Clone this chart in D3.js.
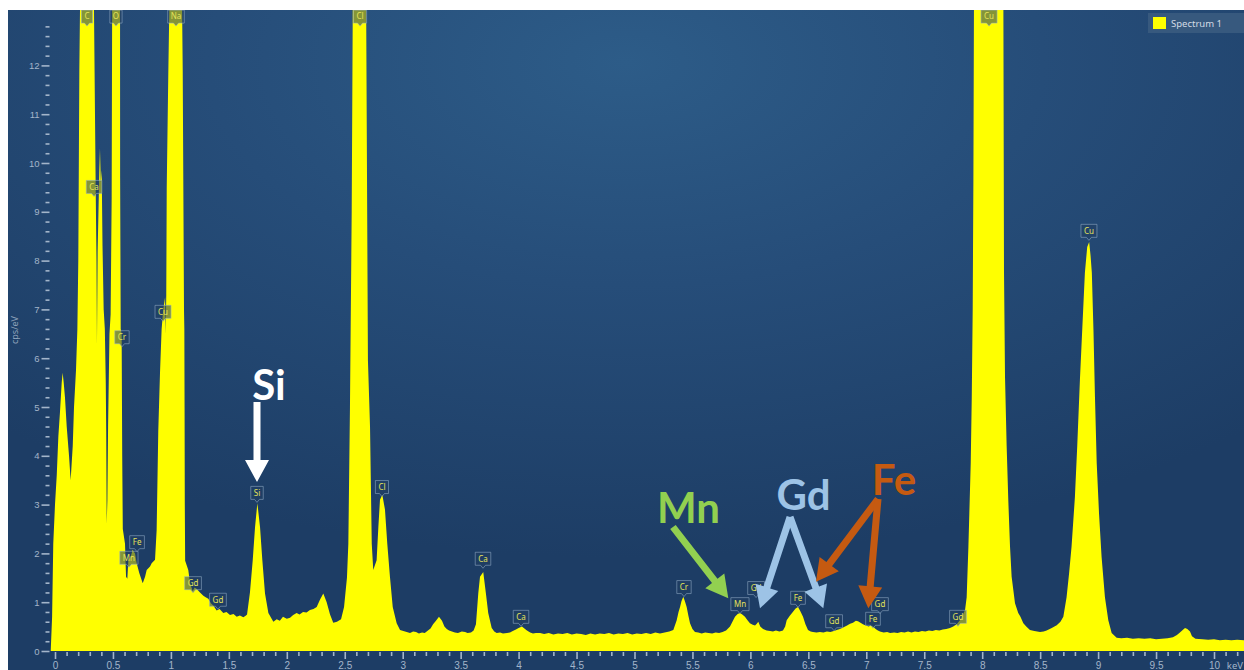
<!DOCTYPE html>
<html>
<head>
<meta charset="utf-8">
<script src="https://cdn.jsdelivr.net/npm/d3@7"></script>
<style>
  body { margin: 0; background: #fff; }
  svg { display: block; font-family: "Noto Sans", "Open Sans", sans-serif; }
</style>
</head>
<body>
<figure id="spectrum" style="margin:0"></figure>
<script>
// EDS spectrum, [energy keV, counts cps/eV]
const spectrum = [
  [-0.037,0],[-0.025,0.7],[-0.015,2.2],[0,3.0],[0.015,3.6],[0.029,4.4],[0.043,4.9],[0.058,5.5],[0.066,5.7],[0.075,5.5],
  [0.086,5.2],[0.101,4.6],[0.121,4.0],[0.135,3.5],[0.153,4.2],[0.164,5.0],[0.181,5.75],[0.193,6.6],[0.201,8.0],[0.21,11.9],
  [0.222,14.5],[0.277,40],[0.331,14.5],[0.351,9.5],[0.358,8.0],[0.362,6.3],[0.368,8.2],[0.382,9.8],[0.388,10.3],[0.395,9.6],
  [0.403,9.85],[0.41,8.3],[0.42,7.0],[0.43,6.6],[0.438,5.5],[0.442,4.5],[0.446,2.6],[0.452,3.1],[0.458,4.6],[0.47,6.5],
  [0.48,6.9],[0.489,9.3],[0.494,14],[0.525,35],[0.561,14],[0.562,9.7],[0.567,6.6],[0.575,6.5],[0.58,4.0],[0.585,2.5],
  [0.604,2.2],[0.613,1.52],[0.624,1.48],[0.633,1.86],[0.653,1.93],[0.67,2.07],[0.69,2.0],[0.705,1.8],[0.727,1.6],[0.757,1.39],
  [0.777,1.52],[0.791,1.66],[0.82,1.73],[0.834,1.8],[0.863,1.87],[0.877,2.48],[0.891,4.5],[0.906,5.7],[0.92,6.6],[0.934,7.0],
  [0.95,7.25],[0.955,6.5],[0.96,7.3],[0.964,9.5],[0.978,11.9],[0.992,14],[1.041,40],[1.093,14],[1.102,11.9],[1.113,7.0],
  [1.116,6.6],[1.118,5.0],[1.12,3.0],[1.123,1.85],[1.15,1.66],[1.165,1.39],[1.188,1.23],[1.205,1.3],[1.223,1.27],[1.251,1.2],
  [1.28,1.13],[1.3,1.1],[1.323,1.07],[1.345,0.98],[1.366,0.93],[1.395,0.83],[1.42,0.86],[1.452,0.78],[1.48,0.8],[1.51,0.74],
  [1.54,0.76],[1.568,0.7],[1.595,0.73],[1.625,0.69],[1.645,0.72],[1.657,0.75],[1.682,1.2],[1.706,1.86],[1.726,2.54],[1.746,3.03],
  [1.769,2.54],[1.789,1.86],[1.812,1.18],[1.841,0.78],[1.884,0.6],[1.913,0.65],[1.94,0.62],[1.967,0.7],[2.0,0.66],[2.028,0.68],
  [2.055,0.74],[2.085,0.78],[2.11,0.75],[2.14,0.8],[2.17,0.79],[2.2,0.84],[2.23,0.86],[2.258,0.9],[2.286,1.05],[2.315,1.18],
  [2.344,1.0],[2.373,0.75],[2.401,0.58],[2.433,0.6],[2.468,0.65],[2.494,0.9],[2.519,1.5],[2.531,2.2],[2.545,5],[2.56,9],
  [2.571,14],[2.622,40],[2.683,14],[2.7,5.96],[2.718,4.6],[2.733,2.2],[2.746,1.66],[2.775,1.86],[2.79,2.54],[2.804,3.1],
  [2.824,3.2],[2.847,2.9],[2.867,2.2],[2.89,1.52],[2.914,0.9],[2.948,0.57],[2.977,0.43],[3.02,0.4],[3.063,0.37],[3.09,0.4],
  [3.115,0.39],[3.14,0.36],[3.167,0.38],[3.19,0.37],[3.218,0.42],[3.24,0.46],[3.262,0.55],[3.287,0.62],[3.313,0.7],[3.339,0.62],
  [3.36,0.5],[3.38,0.45],[3.4,0.42],[3.425,0.4],[3.45,0.38],[3.477,0.37],[3.51,0.4],[3.538,0.39],[3.56,0.37],[3.589,0.38],
  [3.612,0.42],[3.632,0.55],[3.652,1.18],[3.667,1.52],[3.695,1.62],[3.718,1.18],[3.738,0.78],[3.768,0.47],[3.79,0.4],[3.811,0.37],
  [3.84,0.38],[3.865,0.36],[3.9,0.37],[3.926,0.38],[3.95,0.41],[3.977,0.44],[4.0,0.47],[4.029,0.5],[4.05,0.46],[4.072,0.42],
  [4.1,0.38],[4.124,0.36],[4.15,0.37],[4.185,0.37],[4.22,0.35],[4.26,0.37],[4.3,0.34],[4.34,0.36],[4.38,0.35],[4.42,0.37],
  [4.46,0.34],[4.5,0.36],[4.54,0.35],[4.58,0.33],[4.62,0.36],[4.66,0.34],[4.7,0.36],[4.74,0.35],[4.78,0.37],[4.82,0.34],
  [4.86,0.36],[4.9,0.35],[4.94,0.37],[4.98,0.34],[5.02,0.36],[5.06,0.35],[5.1,0.37],[5.14,0.35],[5.18,0.38],[5.22,0.36],
  [5.26,0.38],[5.3,0.4],[5.335,0.43],[5.364,0.63],[5.38,0.8],[5.393,0.9],[5.405,1.02],[5.421,1.11],[5.435,1.02],[5.45,0.9],
  [5.465,0.72],[5.479,0.57],[5.5,0.45],[5.522,0.39],[5.55,0.38],[5.58,0.36],[5.61,0.38],[5.64,0.37],[5.67,0.36],[5.7,0.38],
  [5.73,0.37],[5.76,0.39],[5.79,0.42],[5.824,0.5],[5.845,0.6],[5.867,0.7],[5.89,0.76],[5.91,0.78],[5.93,0.75],[5.953,0.7],
  [5.975,0.63],[5.996,0.57],[6.02,0.54],[6.04,0.52],[6.055,0.56],[6.068,0.6],[6.085,0.5],[6.109,0.45],[6.14,0.42],[6.17,0.41],
  [6.195,0.4],[6.22,0.42],[6.25,0.4],[6.281,0.42],[6.3,0.5],[6.313,0.63],[6.34,0.72],[6.366,0.8],[6.39,0.87],[6.411,0.9],
  [6.43,0.82],[6.454,0.7],[6.475,0.55],[6.497,0.43],[6.52,0.4],[6.54,0.39],[6.57,0.38],[6.6,0.39],[6.63,0.38],[6.66,0.4],
  [6.69,0.39],[6.72,0.41],[6.745,0.43],[6.773,0.45],[6.8,0.48],[6.834,0.52],[6.86,0.56],[6.885,0.58],[6.91,0.62],[6.928,0.61],
  [6.95,0.58],[6.971,0.55],[6.99,0.53],[7.02,0.5],[7.04,0.52],[7.058,0.5],[7.08,0.45],[7.1,0.42],[7.118,0.4],[7.15,0.38],
  [7.18,0.39],[7.205,0.37],[7.24,0.38],[7.27,0.37],[7.3,0.39],[7.33,0.38],[7.36,0.4],[7.39,0.38],[7.42,0.4],[7.45,0.39],
  [7.48,0.41],[7.51,0.4],[7.54,0.42],[7.57,0.41],[7.6,0.43],[7.63,0.42],[7.66,0.44],[7.69,0.45],[7.722,0.47],[7.75,0.5],
  [7.78,0.55],[7.808,0.63],[7.83,0.72],[7.852,0.84],[7.866,1.1],[7.881,2.14],[7.889,2.82],[7.901,3.85],[7.91,5.2],[7.918,7.0],
  [7.924,9.65],[7.93,14],[8.04,40],[8.182,14],[8.188,7.8],[8.197,5.6],[8.211,4.2],[8.225,3.1],[8.24,2.14],[8.254,1.52],
  [8.283,0.98],[8.311,0.78],[8.33,0.7],[8.355,0.57],[8.38,0.5],[8.412,0.43],[8.45,0.41],[8.499,0.39],[8.53,0.4],[8.556,0.42],
  [8.6,0.47],[8.643,0.53],[8.675,0.6],[8.7,0.7],[8.728,1.1],[8.75,1.6],[8.771,2.14],[8.8,3.16],[8.82,4.2],[8.843,5.55],
  [8.863,6.58],[8.886,7.75],[8.906,8.28],[8.923,8.38],[8.935,8.1],[8.946,7.75],[8.96,6.58],[8.973,5.2],[8.988,3.85],[9.008,2.82],
  [9.03,1.93],[9.059,1.1],[9.088,0.63],[9.117,0.37],[9.16,0.27],[9.2,0.26],[9.25,0.27],[9.3,0.25],[9.35,0.26],[9.4,0.25],
  [9.45,0.26],[9.5,0.24],[9.55,0.25],[9.6,0.26],[9.646,0.28],[9.68,0.33],[9.706,0.38],[9.73,0.43],[9.75,0.47],[9.77,0.45],
  [9.793,0.4],[9.81,0.3],[9.84,0.25],[9.9,0.24],[9.95,0.23],[10.0,0.24],[10.05,0.22],[10.1,0.23],[10.15,0.22],[10.2,0.23],
  [10.26,0.22]
];

// peak markers: element, energy (keV), height of the tag (cps/eV)
const peakNames    = ["C", "O", "Na", "Cl", "Cu", "Ca", "Cr", "Cu", "Mn", "Fe", "Gd", "Gd", "Si", "Cl", "Ca", "Ca", "Cr", "Mn", "Gd", "Fe", "Gd", "Fe", "Gd", "Gd", "Cu"];
const peakEnergies = [0.276, 0.526, 1.044, 2.632, 8.059, 0.337, 0.578, 0.932, 0.638, 0.708, 1.191, 1.406, 1.743, 2.821, 3.693, 4.021, 5.427, 5.91, 6.049, 6.411, 6.722, 7.058, 7.118, 7.791, 8.921];
const peakTagCps   = [13.0, 13.0, 13.0, 13.0, 13.0, 9.51, 6.43, 6.95, 1.91, 2.23, 1.39, 1.05, 3.24, 3.36, 1.89, 0.70, 1.31, 0.96, 1.29, 1.09, 0.61, 0.66, 0.96, 0.70, 8.61];

const xMajorTicks = d3.range(0, 21).map(i => i / 2);
const yMajorTicks = d3.range(0, 13);
const seriesName = "Spectrum 1";

// hand-drawn callouts (in data units)
const callouts = [
  { text: "Si", color: "#ffffff", at: [1.846, 5.143], from: [1.743, 5.10], to: [[1.743, 3.463]] },
  { text: "Mn", color: "#92d050", at: [5.466, 2.617], from: [5.332, 2.541], to: [[5.809, 1.080]] },
  { text: "Gd", color: "#9dc3e6", at: [6.458, 2.889], from: [6.342, 2.746], to: [[6.083, 0.875], [6.629, 0.875]] },
  { text: "Fe", color: "#c55a11", at: [7.239, 3.197], from: [7.101, 3.115], to: [[6.566, 1.420], [7.017, 0.875]] }
];

const width = 1244, height = 670;
const svg = d3.select("figure#spectrum")
  .append("svg")
  .attr("width", width)
  .attr("height", height);

const defs = svg.append("defs");
const grad = defs.append("radialGradient")
  .attr("id", "bg")
  .attr("cx", "50%").attr("cy", "8%").attr("r", "75%");
grad.append("stop").attr("offset", "0%").attr("stop-color", "#2d5c88");
grad.append("stop").attr("offset", "45%").attr("stop-color", "#264d79");
grad.append("stop").attr("offset", "100%").attr("stop-color", "#1d3d65");

defs.append("clipPath").attr("id", "plotClip")
  .append("rect").attr("x", 8).attr("y", 10).attr("width", width - 8).attr("height", height - 10);

svg.append("rect")
  .attr("x", 8).attr("y", 10)
  .attr("width", width - 8).attr("height", height - 10)
  .attr("fill", "url(#bg)");

const x = d3.scaleLinear().domain([0, 10]).range([55, 1214]);
const y = d3.scaleLinear().domain([0, 12]).range([651, 65.4]);

// spectrum fill
const area = d3.area()
  .x(d => x(d[0]))
  .y0(y(0))
  .y1(d => y(d[1]));

svg.append("path")
  .datum(spectrum)
  .attr("clip-path", "url(#plotClip)")
  .attr("fill", "#ffff00")
  .attr("d", area);

// Y axis
const tickColor = "#a3b5ca";
const yMinor = d3.range(0, 66).map(i => i / 5).filter(v => v % 1 !== 0);

svg.append("g")
  .attr("transform", "translate(49.5,0)")
  .call(d3.axisLeft(y).tickValues(yMinor).tickSize(4).tickFormat(""))
  .call(g => g.select(".domain").remove())
  .call(g => g.selectAll("line").attr("stroke", tickColor).attr("stroke-width", 1.6));

svg.append("g")
  .attr("transform", "translate(49.5,0)")
  .call(d3.axisLeft(y).tickValues(yMajorTicks).tickSize(8).tickPadding(2).tickFormat(d3.format("d")))
  .call(g => g.select(".domain").remove())
  .call(g => g.selectAll("line").attr("stroke", tickColor).attr("stroke-width", 1.6))
  .call(g => g.selectAll("text").attr("fill", tickColor).style("font-size", "9.5px"));

svg.append("text")
  .attr("transform", "translate(18,330) rotate(-90)")
  .attr("text-anchor", "middle")
  .attr("fill", "#8ea2bb")
  .style("font-size", "9px")
  .text("cps/eV");

// X axis
const xMinor = d3.range(0, 103).filter(i => i % 5 !== 0).map(i => i / 10);

svg.append("g")
  .attr("transform", "translate(0,652)")
  .call(d3.axisBottom(x).tickValues(xMinor).tickSize(4).tickFormat(""))
  .call(g => g.select(".domain").remove())
  .call(g => g.selectAll("line").attr("stroke", tickColor).attr("stroke-width", 1.6));

svg.append("g")
  .attr("transform", "translate(0,652)")
  .call(d3.axisBottom(x).tickValues(xMajorTicks).tickSize(7).tickPadding(3).tickFormat(d => String(d)))
  .call(g => g.select(".domain").remove())
  .call(g => g.selectAll("line").attr("stroke", tickColor).attr("stroke-width", 1.6))
  .call(g => g.selectAll("text").attr("fill", tickColor).style("font-size", "10px"));

svg.append("text")
  .attr("x", 1243).attr("y", 669)
  .attr("text-anchor", "end")
  .attr("fill", tickColor)
  .style("font-size", "9.5px")
  .text("keV");

// peak tags
const tags = svg.append("g").attr("clip-path", "url(#plotClip)")
  .selectAll("g")
  .data(peakNames.map((n, i) => ({ name: n, e: peakEnergies[i], v: peakTagCps[i] })))
  .enter()
  .append("g")
  .attr("transform", d => "translate(" + x(d.e) + "," + y(d.v) + ")");

tags.append("text")
  .attr("text-anchor", "middle")
  .attr("dy", "0.35em")
  .attr("fill", "#e4e25a")
  .style("font-size", "8px")
  .text(d => d.name)
  .each(function (d) { d.w = this.getComputedTextLength() + 6; });

tags.insert("path", "text")
  .attr("d", d => {
    const w = d.w, h = 13;
    return "M" + (-w / 2) + "," + (-h / 2) + "H" + (w / 2) + "V" + (h / 2) +
      "H2.5L0," + (h / 2 + 3) + "L-2.5," + (h / 2) + "H" + (-w / 2) + "Z";
  })
  .attr("fill", "rgba(32,62,98,0.55)")
  .attr("stroke", "rgba(150,175,200,0.55)")
  .attr("stroke-width", 1);

// callout arrows and words
function arrowPath(x1, y1, x2, y2, shaft, headW, headL) {
  const len = Math.hypot(x2 - x1, y2 - y1);
  const ux = (x2 - x1) / len, uy = (y2 - y1) / len;
  const px = -uy, py = ux;
  const bx = x2 - ux * headL, by = y2 - uy * headL;
  const pts = [
    [x1 + px * shaft / 2, y1 + py * shaft / 2],
    [bx + px * shaft / 2, by + py * shaft / 2],
    [bx + px * headW / 2, by + py * headW / 2],
    [x2, y2],
    [bx - px * headW / 2, by - py * headW / 2],
    [bx - px * shaft / 2, by - py * shaft / 2],
    [x1 - px * shaft / 2, y1 - py * shaft / 2]
  ];
  return "M" + pts.map(p => p[0].toFixed(1) + "," + p[1].toFixed(1)).join("L") + "Z";
}

const notes = svg.append("g");
callouts.forEach(c => {
  c.to.forEach(t => {
    notes.append("path")
      .attr("d", arrowPath(x(c.from[0]), y(c.from[1]), x(t[0]), y(t[1]), 7, 24, 22))
      .attr("fill", c.color);
  });
  notes.append("text")
    .attr("x", x(c.at[0]))
    .attr("y", y(c.at[1]))
    .attr("text-anchor", "middle")
    .attr("fill", c.color)
    .style("font-family", "Lato, 'Open Sans', sans-serif")
    .style("font-weight", "bold")
    .style("font-size", "42px")
    .text(c.text);
});

// legend
const legend = svg.append("g").attr("transform", "translate(1148,13)");
legend.append("rect")
  .attr("width", 96).attr("height", 20)
  .attr("fill", "#3a5b80").attr("opacity", 0.9);
legend.append("rect")
  .attr("x", 5).attr("y", 4)
  .attr("width", 13).attr("height", 12)
  .attr("fill", "#ffff00");
legend.append("text")
  .attr("x", 23).attr("y", 14)
  .attr("fill", "#d3dbe5")
  .style("font-size", "9.5px")
  .text(seriesName);
</script>
</body>
</html>
